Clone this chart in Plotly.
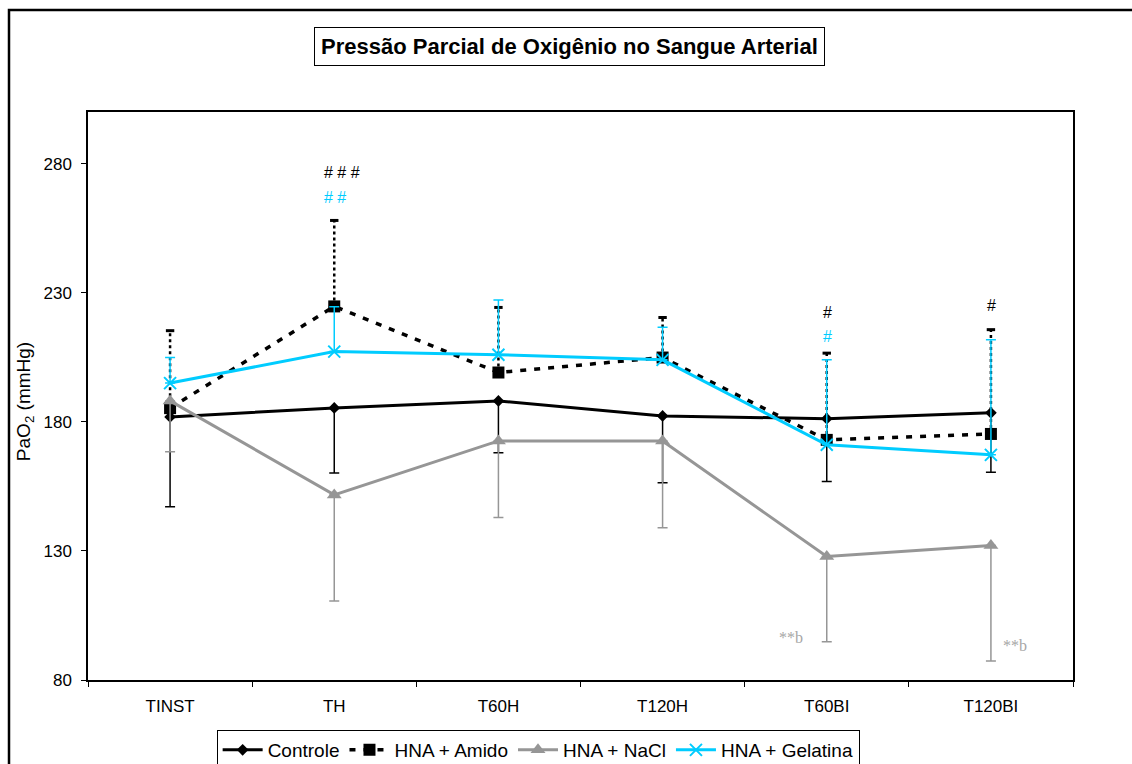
import plotly.graph_objects as go

# ---- data ----
categories = ["TINST", "TH", "T60H", "T120H", "T60BI", "T120BI"]

controle_mean = [181.9, 185.4, 188.1, 182.3, 181.2, 183.5]
controle_sd = [34.8, 25.2, 20.1, 25.9, 24.3, 23.0]

amido_mean = [185.3, 224.7, 199.1, 204.9, 173.0, 175.3]
amido_sd = [30.0, 33.3, 25.2, 15.5, 33.6, 40.4]

nacl_mean = [188.1, 151.7, 172.6, 172.6, 127.8, 132.1]
nacl_sd = [19.7, 41.1, 29.7, 33.6, 33.0, 44.7]

gelatina_mean = [195.0, 207.2, 206.0, 204.0, 171.1, 167.2]
gelatina_sd = [9.9, 17.4, 21.2, 12.6, 32.9, 44.6]

series_names = ["Controle", "HNA + Amido", "HNA + NaCl", "HNA + Gelatina"]

title_text = "Pressão Parcial de Oxigênio no Sangue Arterial"
y_title = "PaO<sub>2</sub> (mmHg)"
y_ticks = [80, 130, 180, 230, 280]

# significance marks: (category index, y value, text, colour key)
marks = [
    (1, 276.5, "# # #", "black"),
    (1, 266.8, "# #", "cyan"),
    (4, 222.2, "#", "black"),
    (4, 212.9, "#", "cyan"),
    (5, 225.0, "#", "black"),
]
letter_marks = [(4, 96.3, "**b", -36), (5, 93.2, "**b", 24)]

BLACK = "#000000"
GRAY = "#969696"
CYAN = "#00CCFF"
SANS = "Arial, 'Liberation Sans', sans-serif"
SERIF = "'Times New Roman', 'Liberation Serif', serif"

fig = go.Figure()

# Controle
fig.add_trace(go.Scatter(
    x=categories, y=controle_mean, name=series_names[0], mode="lines+markers",
    line=dict(color=BLACK, width=3),
    marker=dict(symbol="diamond", size=9, color=BLACK),
    error_y=dict(type="data", symmetric=False, array=[0] * len(categories),
                 arrayminus=controle_sd, color=BLACK, thickness=1.5, width=5),
))

# HNA + Amido: dotted upward error bars drawn as segments
ex, ey = [], []
for c, m, s in zip(categories, amido_mean, amido_sd):
    ex += [c, c, None]
    ey += [m, m + s, None]
fig.add_trace(go.Scatter(
    x=ex, y=ey, mode="lines", showlegend=False, hoverinfo="skip",
    line=dict(color=BLACK, width=2.5, dash="3px,3px"),
))
fig.add_trace(go.Scatter(
    x=categories, y=[m + s for m, s in zip(amido_mean, amido_sd)], mode="markers",
    showlegend=False, hoverinfo="skip",
    marker=dict(symbol="line-ew", size=6, line=dict(color=BLACK, width=3)),
))
fig.add_trace(go.Scatter(
    x=categories, y=amido_mean, name=series_names[1], mode="lines+markers",
    line=dict(color=BLACK, width=3.5, dash="6px,8px"),
    marker=dict(symbol="square", size=12, color=BLACK),
))

# HNA + NaCl
fig.add_trace(go.Scatter(
    x=categories, y=nacl_mean, name=series_names[2], mode="lines+markers",
    line=dict(color=GRAY, width=3),
    marker=dict(symbol="triangle-up", size=13, color=GRAY),
    error_y=dict(type="data", symmetric=False, array=[0] * len(categories),
                 arrayminus=nacl_sd, color=GRAY, thickness=1.5, width=5),
))

# HNA + Gelatina
fig.add_trace(go.Scatter(
    x=categories, y=gelatina_mean, name=series_names[3], mode="lines+markers",
    line=dict(color=CYAN, width=3),
    marker=dict(symbol="x-thin", size=12, color=CYAN, line=dict(color=CYAN, width=2)),
    error_y=dict(type="data", symmetric=False, array=gelatina_sd,
                 arrayminus=[0] * len(categories), color=CYAN, thickness=1.5, width=5),
))

annotations = []
for idx, yv, txt, col in marks:
    annotations.append(dict(
        x=idx, y=yv, xref="x", yref="y", text=txt, showarrow=False,
        xanchor="left", xshift=-12 if idx == 1 else -6,
        font=dict(family=SANS, size=16, color=BLACK if col == "black" else CYAN),
    ))
for idx, yv, txt, xs in letter_marks:
    annotations.append(dict(
        x=idx, y=yv, xref="x", yref="y", text=txt, showarrow=False,
        xshift=xs, font=dict(family=SERIF, size=16, color="#A6A6A6"),
    ))

# Title box
annotations.append(dict(
    x=0.489, y=1.116, xref="paper", yref="paper", text="<b>" + title_text + "</b>",
    showarrow=False, xanchor="center", yanchor="middle",
    font=dict(family=SANS, size=22, color=BLACK),
    bordercolor=BLACK, borderwidth=1, borderpad=6, bgcolor="white",
))
# Y axis title
annotations.append(dict(
    x=-0.0645, y=0.49, xref="paper", yref="paper", text=y_title, textangle=-90,
    showarrow=False, xanchor="center", yanchor="middle",
    font=dict(family=SANS, size=19, color=BLACK),
))

fig.update_layout(
    width=1132, height=764,
    margin=dict(l=88, r=59, t=112, b=84, autoexpand=False),
    paper_bgcolor="white", plot_bgcolor="white",
    font=dict(family=SANS, size=17, color=BLACK),
    showlegend=True,
    legend=dict(
        orientation="h", x=0.457, xanchor="center", y=-0.088, yanchor="top",
        bordercolor=BLACK, borderwidth=1, bgcolor="white",
        font=dict(family=SANS, size=19, color=BLACK),
        itemwidth=40, tracegroupgap=0,
    ),
    annotations=annotations,
    shapes=[dict(
        type="rect", xref="paper", yref="paper",
        x0=-0.0802, x1=1.3, y0=-0.4, y1=1.1796,
        line=dict(color=BLACK, width=2.5), fillcolor="rgba(0,0,0,0)", layer="below",
    )],
)

fig.update_xaxes(
    type="category", categoryorder="array", categoryarray=categories,
    range=[-0.5, 5.5], tickson="boundaries", ticks="outside", ticklen=5,
    tickcolor=BLACK, showline=True, linecolor=BLACK, linewidth=1.5, mirror=True,
    showgrid=False, zeroline=False, ticklabelstandoff=10,
    tickfont=dict(family=SANS, size=17, color=BLACK),
)
fig.update_yaxes(
    range=[80, 300], tickvals=y_ticks, ticks="outside", ticklen=5,
    tickcolor=BLACK, showline=True, linecolor=BLACK, linewidth=1.5, mirror=True,
    showgrid=False, zeroline=False, ticklabelstandoff=6,
    tickfont=dict(family=SANS, size=17, color=BLACK),
)

fig.write_html("out.html")
